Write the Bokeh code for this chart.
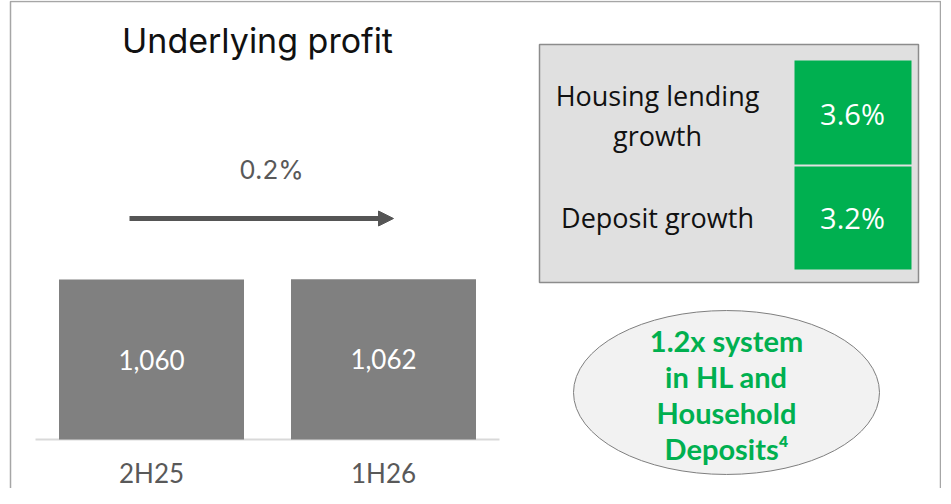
from bokeh.plotting import figure
from bokeh.models import Range1d, Arrow, NormalHead
from bokeh.core.properties import value
from bokeh.embed import file_html
from bokeh.resources import INLINE

# ---- data ----
categories = ["2H25", "1H26"]
profit = [1060, 1062]
change_pct = 0.2
metric_labels = ["Housing lending\ngrowth", "Deposit growth"]
metric_values = [3.6, 3.2]
callout_text = "1.2x system\nin HL and\nHousehold\nDeposits\u2074"
title_text = "Underlying profit"

# ---- layout (pixel-like canvas) ----
W, H = 941, 488
p = figure(width=W, height=H, x_range=Range1d(0, W), y_range=Range1d(H, 0),
           output_backend="svg", toolbar_location=None, min_border=0,
           x_axis_type=None, y_axis_type=None)
p.grid.visible = False
p.outline_line_color = None
p.background_fill_color = "white"
p.border_fill_color = "white"

GREY_TXT = "#595959"

# outer frame
p.line(x=[10, 10, 940, 940], y=[H, 1, 1, H], line_color="#a6a6a6", line_width=1.5)

# title
p.text(x=[257], y=[40], text=[title_text], text_font=value("Inter"),
       text_font_size="34px", text_color="#111111", text_align="center",
       text_baseline="middle")

# bar chart in its own scales
step = 232.0
c0 = 151.0
ppu = 160.0 / 1060.0
base = 439.0
p.extra_x_ranges = {"bx": Range1d(-c0 / step, (W - c0) / step)}
p.extra_y_ranges = {"by": Range1d(-(H - base) / ppu, base / ppu)}
idx = list(range(len(categories)))

p.segment(x0=[-0.5], y0=[0], x1=[len(categories) - 0.5], y1=[0],
          x_range_name="bx", y_range_name="by", line_color="#d9d9d9", line_width=2)
p.vbar(x=idx, top=profit, bottom=0, width=185 / step, x_range_name="bx",
       y_range_name="by", fill_color="#808080", line_color=None)
p.text(x=idx, y=[v / 2 for v in profit], text=[f"{v:,}" for v in profit],
       x_range_name="bx", y_range_name="by", text_font=value("Lato"),
       text_font_size="26px", text_color="white", text_align="center",
       text_baseline="middle")
p.text(x=idx, y=[0] * len(idx), text=categories, y_offset=33,
       x_range_name="bx", y_range_name="by", text_font=value("Lato"),
       text_font_size="26px", text_color=GREY_TXT, text_align="center",
       text_baseline="middle")

# change arrow + label
p.text(x=[271], y=[169], text=[f"{change_pct:.1f}%"], text_font=value("Inter"),
       text_font_size="26px", text_color=GREY_TXT, text_align="center",
       text_baseline="middle")
p.add_layout(Arrow(end=NormalHead(size=15, fill_color="#555555", line_color="#555555"),
                   x_start=129, y_start=218, x_end=393, y_end=218,
                   line_width=5, line_color="#555555"))

# metrics box
p.quad(left=[539], right=[918], top=[44], bottom=[282], fill_color="#e0e0e0",
       line_color="#8c8c8c", line_width=1.5)
cell_tops = [60, 166]
cell_bottoms = [164, 269]
p.quad(left=[794] * 2, right=[911] * 2, top=cell_tops, bottom=cell_bottoms,
       fill_color="#00b050", line_color=None)
p.text(x=[852] * 2, y=[113, 217], text=[f"{v:.1f}%" for v in metric_values],
       text_font=value("Open Sans"), text_font_size="29px", text_color="white",
       text_align="center", text_baseline="middle")
p.text(x=[657] * 2, y=[115, 217], text=metric_labels, text_font=value("Open Sans"),
       text_font_size="27px", text_color="#111111", text_align="center",
       text_baseline="middle", text_line_height=1.1)

# callout ellipse
p.ellipse(x=[726], y=[392], width=[306], height=[164], fill_color="#f2f2f2",
          line_color="#7f7f7f", line_width=1)
p.text(x=[726], y=[394], text=[callout_text], text_font=value("Lato"),
       text_font_style="bold", text_font_size="29px", text_color="#00b050",
       text_align="center", text_baseline="middle", text_line_height=1.02)

open("out.html", "w").write(file_html(p, INLINE))
